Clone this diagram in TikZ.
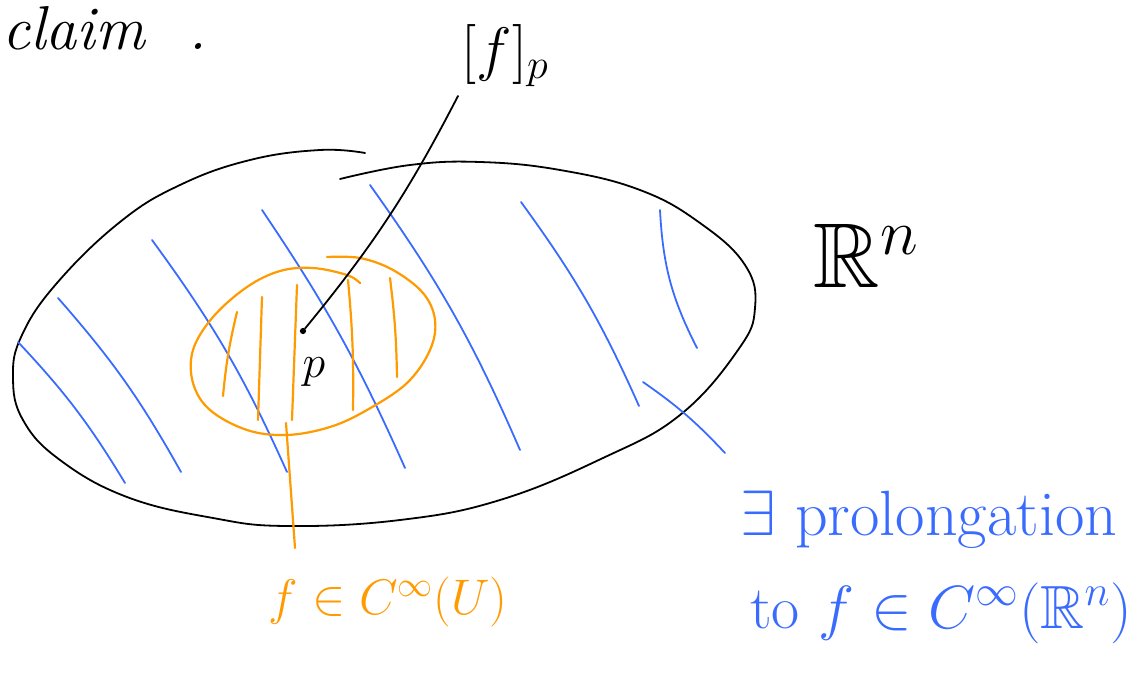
\RequirePackage{fix-cm}
\documentclass[tikz,border=0pt]{standalone}
\usepackage{amssymb}
\usepackage{tikz}
\usetikzlibrary{arrows.meta,positioning,calc}
\definecolor{PenBlue}{HTML}{3A6BFF}
\definecolor{PenOrange}{HTML}{FF9A00}

\begin{document}
\begin{tikzpicture}[
	x=1pt, y=-1pt,
	pen/.style={line width=1.8pt, line cap=round, line join=round},
	hatch/.style={pen, PenBlue},
	ohatch/.style={pen, PenOrange, line width=2.2pt},
	txt/.style={inner sep=0pt, font=\fontsize{#1}{#1}\selectfont},
	txt/.default=50
]
\useasboundingbox (0,0) rectangle (1146,674);

% labels
\node[txt=62, anchor=west] (claim) at (2,28) {\itshape claim\hspace{0.7em}.};
\node[txt=60] (germ) at (505,56) {$[f]_p$};
\node[txt=92] (rn) at (866,256) {$\mathbb{R}^n$};
\node[txt=50, PenOrange] (fU) at (388,602) {$f\in C^\infty(U)$};
\node[txt=64, PenBlue, anchor=base west] (prol) at (740,535) {$\exists$ prolongation};
\node[txt=61, PenBlue, anchor=base west] (ext) at (750,628) {to $f\in C^\infty(\mathbb{R}^n)$};

% big set
\draw[pen] plot[smooth, tension=0.7] coordinates {(365,153) (320,150) (250,160) (180,185) (120,222) (57,283)
	(22,335) (13,377) (23,420) (60,460) (127,497) (213,518) (287,526) (400,520) (500,500) (603,458)
	(680,415) (738,350) (755,308) (745,265) (700,223) (640,190) (560,170) (480,162) (410,165) (340,179)};

% blue hatching
\draw[hatch] (18,342) to[bend left=6] (125,483);
\draw[hatch] (58,298) to[bend left=6] (181,472);
\draw[hatch] (152,240) to[bend left=6] (287,472);
\draw[hatch] (262,210) to[bend left=5] (405,468);
\draw[hatch] (370,185) to[bend left=6] (520,450);
\draw[hatch] (521,202) to[bend left=6] (639,406);
\draw[hatch] (660,210) to[bend right=12] (697,348);

% small set U
\draw[ohatch] plot[smooth, tension=0.6] coordinates {(360,283) (347,275) (313,268) (280,271) (247,287) (213,317)
	(193,350) (193,383) (210,410) (247,430) (287,435) (330,427) (367,410) (407,383) (430,350)
	(435,320) (423,293) (393,270) (360,258) (327,257)};
\draw[ohatch] (237,312) to[bend right=4] (223,396);
\draw[ohatch] (262,297) -- (258,420);
\draw[ohatch] (297,285) -- (292,420);
\draw[ohatch] (348,280) to[bend left=3] (353,410);
\draw[ohatch] (390,278) to[bend left=3] (397,377);

% point p
\node[circle, fill, inner sep=2.2pt] (p) at (303,331) {};
\node[txt=46] (plabel) at (314,372) {$p$};

% connectors
\coordinate (germend) at (458,96);
\coordinate (fUend) at (295,548);
\coordinate (prolend) at (725,453);
\draw[pen] (p) to[bend right=6] (germend);
\draw[ohatch] (286,423) -- (fUend);
\draw[hatch] (643,382) to[bend left=6] (prolend);
\end{tikzpicture}
\end{document}
